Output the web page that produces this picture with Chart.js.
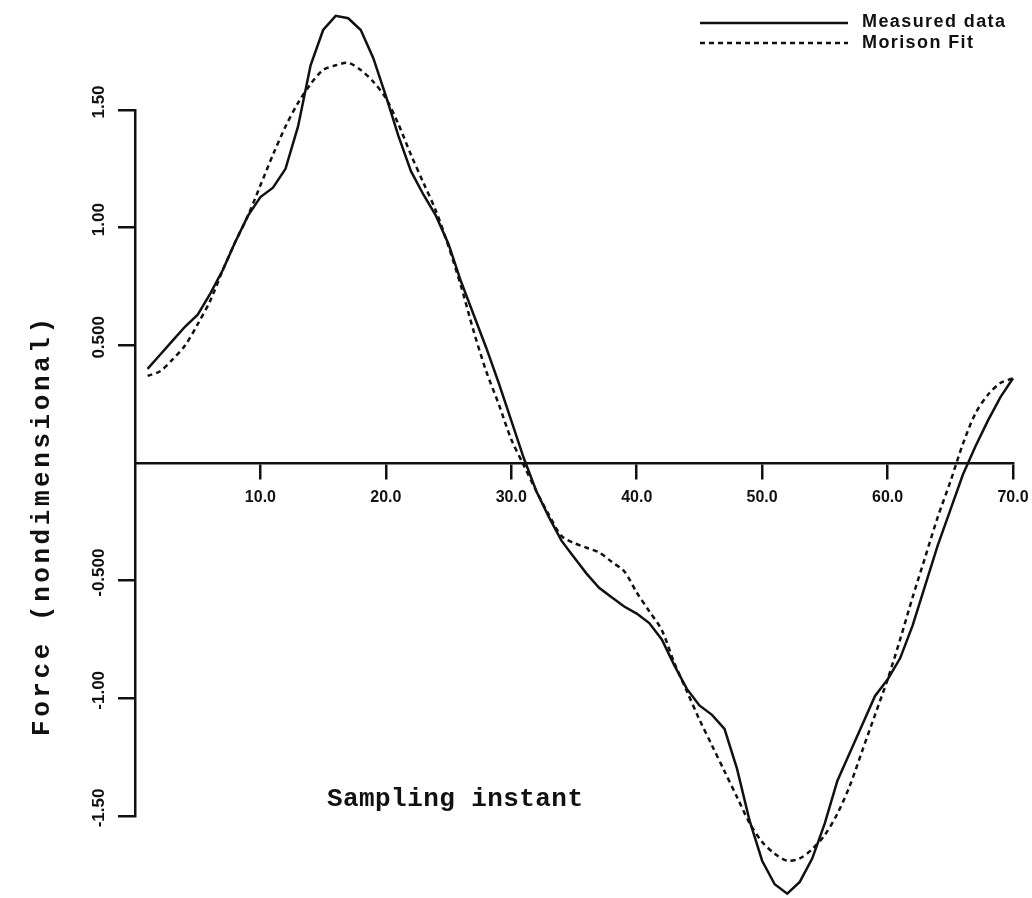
<!DOCTYPE html>
<html>
<head>
<meta charset="utf-8">
<title>Force vs sampling instant</title>
<script src="https://cdn.jsdelivr.net/npm/chart.js@4.4.1/dist/chart.umd.min.js"></script>
<style>
    html, body { margin: 0; padding: 0; background: #ffffff; }
    #wrap { width: 1032px; height: 898px; }
</style>
</head>
<body>
<div id="wrap"><canvas id="forceChart" width="1032" height="898"></canvas></div>
<script>
// Sampling instants (x axis)
const samples = [
    1, 2, 3, 4, 5, 6, 7, 8, 9, 10,
    11, 12, 13, 14, 15, 16, 17, 18, 19, 20,
    21, 22, 23, 24, 25, 26, 27, 28, 29, 30,
    31, 32, 33, 34, 35, 36, 37, 38, 39, 40,
    41, 42, 43, 44, 45, 46, 47, 48, 49, 50,
    51, 52, 53, 54, 55, 56, 57, 58, 59, 60,
    61, 62, 63, 64, 65, 66, 67, 68, 69, 70
];

// Measured force
const measuredData = [
    0.40, 0.46, 0.52, 0.58, 0.63, 0.72, 0.82, 0.94, 1.05, 1.13,
    1.17, 1.25, 1.43, 1.69, 1.84, 1.90, 1.89, 1.84, 1.72, 1.56,
    1.39, 1.24, 1.14, 1.05, 0.93, 0.77, 0.63, 0.49, 0.34, 0.18,
    0.02, -0.12, -0.23, -0.33, -0.40, -0.47, -0.53, -0.57, -0.61, -0.64,
    -0.68, -0.75, -0.86, -0.96, -1.03, -1.07, -1.13, -1.30, -1.52, -1.69,
    -1.79, -1.83, -1.78, -1.68, -1.53, -1.35, -1.23, -1.11, -0.99, -0.92,
    -0.83, -0.69, -0.52, -0.35, -0.20, -0.05, 0.07, 0.18, 0.28, 0.36
];

// Morison equation fit
const morisonFit = [
    0.37, 0.39, 0.44, 0.50, 0.59, 0.69, 0.82, 0.94, 1.05, 1.18,
    1.31, 1.43, 1.53, 1.61, 1.67, 1.69, 1.70, 1.67, 1.62, 1.55,
    1.44, 1.31, 1.19, 1.07, 0.92, 0.75, 0.56, 0.39, 0.25, 0.10,
    -0.01, -0.12, -0.22, -0.31, -0.34, -0.36, -0.38, -0.42, -0.46, -0.55,
    -0.63, -0.71, -0.85, -0.97, -1.09, -1.20, -1.31, -1.42, -1.53, -1.61,
    -1.66, -1.69, -1.68, -1.64, -1.58, -1.49, -1.37, -1.22, -1.07, -0.92,
    -0.75, -0.57, -0.40, -0.23, -0.08, 0.08, 0.21, 0.29, 0.34, 0.36
];

// Tick values and their printed labels
const xTickValues = [10, 20, 30, 40, 50, 60, 70];
const xTickLabels = ['10.0', '20.0', '30.0', '40.0', '50.0', '60.0', '70.0'];
const yTickValues = [-1.5, -1.0, -0.5, 0.5, 1.0, 1.5];
const yTickLabels = ['-1.50', '-1.00', '-0.500', '0.500', '1.00', '1.50'];

const seriesNames = ['Measured data', 'Morison Fit'];
const xTitle = 'Sampling instant';
const yTitle = 'Force (nondimensional)';

const ink = '#111111';

// Draw text stretched to a given width with letter spacing
function spacedText(ctx, text, x, y, width) {
    ctx.letterSpacing = '0px';
    const natural = ctx.measureText(text).width;
    const gap = (width - natural) / (text.length - 1);
    ctx.letterSpacing = gap + 'px';
    ctx.fillText(text, x, y);
    ctx.letterSpacing = '0px';
}

// Axis titles and the legend, placed like the original plotter output
const plotterLabels = {
    id: 'plotterLabels',
    afterDraw(chart) {
        const ctx = chart.ctx;
        ctx.save();
        ctx.fillStyle = ink;
        ctx.textAlign = 'left';
        ctx.textBaseline = 'middle';

        // x title
        ctx.font = 'bold 26px "Liberation Mono"';
        spacedText(ctx, xTitle, 327, 799, 256);

        // y title, rotated
        ctx.save();
        ctx.translate(42, 527);
        ctx.rotate(-Math.PI / 2);
        spacedText(ctx, yTitle, -209, 0, 418);
        ctx.restore();

        // legend
        const rows = [23, 43];
        chart.data.datasets.forEach((ds, i) => {
            ctx.save();
            ctx.strokeStyle = ds.borderColor;
            ctx.lineWidth = ds.borderWidth;
            ctx.setLineDash(ds.borderDash || []);
            ctx.beginPath();
            ctx.moveTo(700, rows[i]);
            ctx.lineTo(848, rows[i]);
            ctx.stroke();
            ctx.restore();
        });
        ctx.font = 'bold 18px "Liberation Sans"';
        spacedText(ctx, seriesNames[0], 862, 22, 143);
        spacedText(ctx, seriesNames[1], 862, 43, 111);
        ctx.restore();
    }
};

const ctx = document.getElementById('forceChart').getContext('2d');

new Chart(ctx, {
    type: 'line',
    data: {
        datasets: [
            {
                label: seriesNames[0],
                data: samples.map((s, i) => ({ x: s, y: measuredData[i] })),
                borderColor: ink,
                borderWidth: 2.5,
                pointRadius: 0,
                tension: 0,
                clip: false
            },
            {
                label: seriesNames[1],
                data: samples.map((s, i) => ({ x: s, y: morisonFit[i] })),
                borderColor: ink,
                borderWidth: 2.5,
                borderDash: [5, 4],
                pointRadius: 0,
                tension: 0.3,
                clip: false
            }
        ]
    },
    options: {
        responsive: false,
        animation: false,
        devicePixelRatio: 1,
        events: [],
        layout: {
            padding: { top: 110, bottom: 82, left: 0, right: 19 }
        },
        scales: {
            x: {
                type: 'linear',
                min: 0,
                max: 70,
                position: { y: 0 },
                afterBuildTicks: scale => {
                    scale.ticks = xTickValues.map(v => ({ value: v }));
                },
                afterFit: scale => {
                    scale.paddingLeft = 0;
                    scale.paddingRight = 0;
                },
                ticks: {
                    autoSkip: false,
                    maxRotation: 0,
                    padding: 10,
                    color: ink,
                    font: { family: 'Liberation Sans', weight: 'bold', size: 16 },
                    callback: (value, index) => xTickLabels[index]
                },
                grid: {
                    drawOnChartArea: false,
                    drawTicks: true,
                    tickLength: 15,
                    lineWidth: 2.5,
                    color: ink
                },
                border: { display: true, color: ink, width: 2.5 }
            },
            y: {
                type: 'linear',
                min: -1.5,
                max: 1.5,
                afterBuildTicks: scale => {
                    scale.ticks = yTickValues.map(v => ({ value: v }));
                },
                afterFit: scale => {
                    scale.width = 135;
                },
                ticks: {
                    minRotation: 90,
                    maxRotation: 90,
                    crossAlign: 'center',
                    labelOffset: -8,
                    padding: -5,
                    color: ink,
                    font: { family: 'Liberation Sans', weight: 'bold', size: 17 },
                    callback: (value, index) => yTickLabels[index]
                },
                grid: {
                    drawOnChartArea: false,
                    drawTicks: true,
                    tickLength: 17,
                    lineWidth: 2.5,
                    color: ink
                },
                border: { display: true, color: ink, width: 2.5 }
            }
        },
        plugins: {
            legend: { display: false },
            title: { display: false },
            tooltip: { enabled: false }
        }
    },
    plugins: [plotterLabels]
});
</script>
</body>
</html>
